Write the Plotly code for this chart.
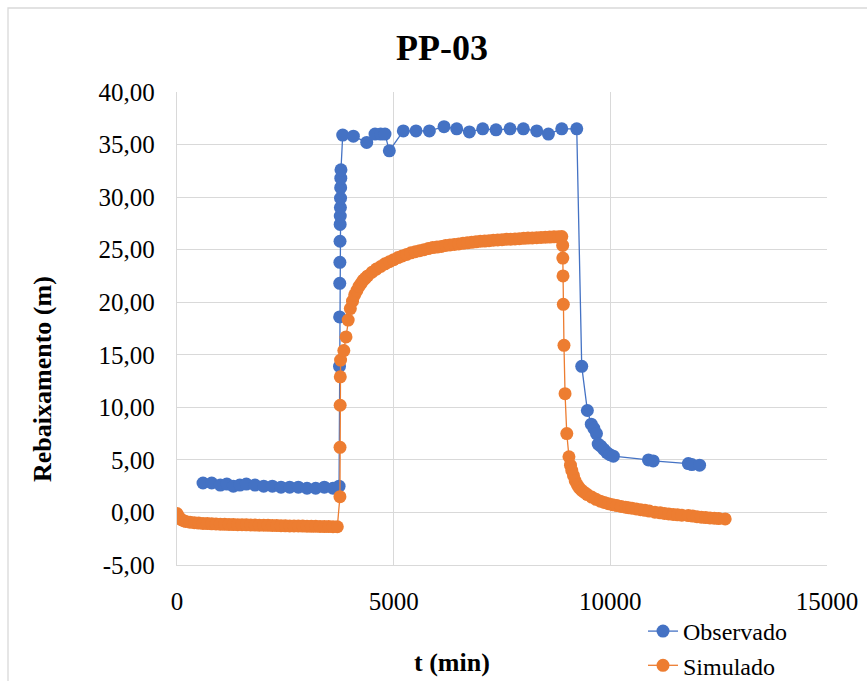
import plotly.graph_objects as go

# --- Observed drawdown (m) vs time (min) ---
obs_t = [600, 800, 1000, 1150, 1300, 1450, 1600, 1800, 2000, 2200, 2400, 2600,
         2800, 3000, 3200, 3400, 3600, 3740,
         3750, 3753, 3756, 3759, 3762, 3765, 3768, 3771, 3774, 3777, 3780, 3784,
         3824, 4070, 4378, 4570, 4700, 4800, 4900, 5223, 5516, 5824, 6162, 6455,
         6747, 7055, 7362, 7686, 7993, 8302, 8571, 8879, 9225,
         9340, 9470, 9560, 9620, 9680, 9720, 9780, 9850, 9920, 9990, 10070,
         10880, 10990, 11800, 11880, 12060]
obs_s = [2.8, 2.8, 2.6, 2.7, 2.5, 2.6, 2.7, 2.6, 2.5, 2.5, 2.4, 2.4,
         2.4, 2.3, 2.3, 2.4, 2.3, 2.5,
         13.9, 18.6, 21.8, 23.8, 25.8, 27.4, 28.2, 29.0, 29.9, 30.9, 31.8, 32.6,
         35.9, 35.8, 35.2, 36.0, 36.0, 36.0, 34.4, 36.3, 36.3, 36.3, 36.7, 36.5,
         36.2, 36.5, 36.4, 36.5, 36.5, 36.3, 36.0, 36.5, 36.5,
         13.9, 9.7, 8.4, 8.0, 7.5, 6.5, 6.3, 6.0, 5.7, 5.5, 5.35,
         5.0, 4.9, 4.65, 4.55, 4.5]

# --- Simulated drawdown (m) vs time (min) ---
sim_t = [0, 30, 60, 100, 150, 200, 300, 400, 500, 600, 700, 800, 900,
         1000, 1100, 1200, 1300, 1400, 1500, 1600, 1700, 1800, 1900, 2000,
         2100, 2200, 2300, 2400, 2500, 2600, 2700, 2800, 2900, 3000, 3100,
         3200, 3300, 3400, 3500, 3600, 3700,
         3760, 3762, 3765, 3768, 3775, 3850, 3900, 3950, 4000,
         4050, 4100, 4150, 4200, 4250, 4300, 4350, 4400, 4500, 4600, 4700,
         4800, 4900, 5000, 5100, 5200, 5300, 5400, 5500, 5600, 5700, 5800,
         5900, 6000, 6100, 6200, 6300, 6400, 6500, 6600, 6700, 6800, 6900,
         7000, 7100, 7200, 7300, 7400, 7500, 7600, 7700, 7800, 7900, 8000,
         8100, 8200, 8300, 8400, 8500, 8600, 8700, 8800, 8880,
         8900, 8903, 8908, 8915, 8930, 8955, 8995, 9045,
         9080, 9110, 9150, 9190, 9240, 9290, 9340, 9400, 9470, 9570, 9670,
         9770, 9860, 9955, 10050, 10150, 10250, 10350, 10420, 10500, 10600,
         10700, 10800, 10900, 11030, 11150, 11250, 11350, 11450, 11550,
         11650, 11800, 11900, 12000, 12100, 12200, 12300, 12400, 12500, 12650]
sim_s = [-0.10, -0.35, -0.55, -0.68, -0.78, -0.85, -0.93, -0.98, -1.01, -1.04,
         -1.06, -1.08, -1.10, -1.12, -1.13, -1.14, -1.15, -1.16, -1.17, -1.18,
         -1.19, -1.20, -1.21, -1.22, -1.23, -1.24, -1.25, -1.26, -1.27, -1.28,
         -1.29, -1.29, -1.30, -1.31, -1.32, -1.32, -1.33, -1.34, -1.34, -1.35,
         -1.36,
         1.5, 6.2, 10.2, 12.9, 14.5, 15.4, 16.7, 18.3, 19.4,
         20.1, 20.7, 21.1, 21.5, 21.8, 22.1, 22.3, 22.5, 22.85, 23.15, 23.4,
         23.65, 23.85, 24.05, 24.25, 24.4, 24.55, 24.7, 24.8, 24.9, 25.0, 25.1,
         25.2, 25.25, 25.3, 25.4, 25.45, 25.5, 25.55, 25.6, 25.65, 25.7, 25.75,
         25.8, 25.82, 25.85, 25.9, 25.92, 25.95, 25.98, 26.0, 26.02, 26.05,
         26.08, 26.1, 26.12, 26.14, 26.16, 26.18, 26.2, 26.22, 26.24, 26.25,
         25.4, 24.2, 22.5, 19.8, 15.9, 11.3, 7.5, 5.3,
         4.5, 4.0, 3.5, 3.0, 2.6, 2.3, 2.1, 1.9, 1.7, 1.46, 1.25,
         1.07, 0.95, 0.83, 0.74, 0.65, 0.57, 0.5, 0.45, 0.4, 0.33,
         0.26, 0.2, 0.13, 0.03, -0.04, -0.1, -0.15, -0.19, -0.23,
         -0.26, -0.3, -0.35, -0.4, -0.45, -0.49, -0.52, -0.55, -0.58, -0.62]

# --- Axis ticks ---
x_tick_vals = [0, 5000, 10000, 15000]
x_tick_labels = ["0", "5000", "10000", "15000"]
y_tick_vals = [-5, 0, 5, 10, 15, 20, 25, 30, 35, 40]
y_tick_labels = ["-5,00", "0,00", "5,00", "10,00", "15,00", "20,00",
                 "25,00", "30,00", "35,00", "40,00"]

FONT = "Liberation Serif, Times New Roman, serif"
GRID = "#d9d9d9"
BLUE = "#4472C4"
ORANGE = "#ED7D31"

fig = go.Figure()
fig.add_trace(go.Scatter(
    x=obs_t, y=obs_s, name="Observado", mode="lines+markers",
    line=dict(color=BLUE, width=1.3),
    marker=dict(color=BLUE, size=13),
))
fig.add_trace(go.Scatter(
    x=sim_t, y=sim_s, name="Simulado", mode="lines+markers",
    line=dict(color=ORANGE, width=1.3),
    marker=dict(color=ORANGE, size=13),
))

W, H = 867, 681
L, R, T, B = 177, 40, 92, 116
pw, ph = W - L - R, H - T - B


def px_x(px):
    return (px - L) / pw


def px_y(py):
    return (H - B - py) / ph


fig.update_layout(
    width=W, height=H,
    margin=dict(l=L, r=R, t=T, b=B, autoexpand=False),
    paper_bgcolor="white", plot_bgcolor="white",
    font=dict(family=FONT, size=25, color="black"),
    showlegend=True,
    legend=dict(
        x=px_x(643), y=px_y(609), xanchor="left", yanchor="top",
        font=dict(family=FONT, size=24, color="black"),
        bgcolor="rgba(0,0,0,0)", tracegroupgap=0,
    ),
    xaxis=dict(
        range=[0, 15000], tickvals=x_tick_vals, ticktext=x_tick_labels,
        showgrid=True, gridcolor=GRID, gridwidth=1.3,
        showline=True, linecolor=GRID, linewidth=1.3,
        zeroline=False, ticks="", ticklabelstandoff=14,
        tickfont=dict(family=FONT, size=25, color="black"),
    ),
    yaxis=dict(
        range=[-5, 40], tickvals=y_tick_vals, ticktext=y_tick_labels,
        showgrid=True, gridcolor=GRID, gridwidth=1.3,
        showline=True, linecolor=GRID, linewidth=1.3,
        zeroline=False, ticks="", ticklabelstandoff=16,
        tickfont=dict(family=FONT, size=25, color="black"),
    ),
    annotations=[
        dict(text="<b>PP-03</b>", xref="paper", yref="paper",
             x=px_x(442), y=px_y(48), xanchor="center", yanchor="middle",
             showarrow=False, font=dict(family=FONT, size=36, color="black")),
        dict(text="<b>Rebaixamento (m)</b>", xref="paper", yref="paper",
             x=px_x(42), y=px_y(379), xanchor="center", yanchor="middle",
             textangle=-90, showarrow=False,
             font=dict(family=FONT, size=26, color="black")),
        dict(text="<b>t (min)</b>", xref="paper", yref="paper",
             x=px_x(452), y=px_y(662), xanchor="center", yanchor="middle",
             showarrow=False, font=dict(family=FONT, size=26, color="black")),
    ],
    shapes=[
        dict(type="rect", xref="paper", yref="paper",
             x0=px_x(8), y0=px_y(8), x1=px_x(W + 300), y1=px_y(H + 50),
             line=dict(color=GRID, width=1.3), fillcolor="rgba(0,0,0,0)",
             layer="below"),
    ],
)

fig.write_html("out.html")
